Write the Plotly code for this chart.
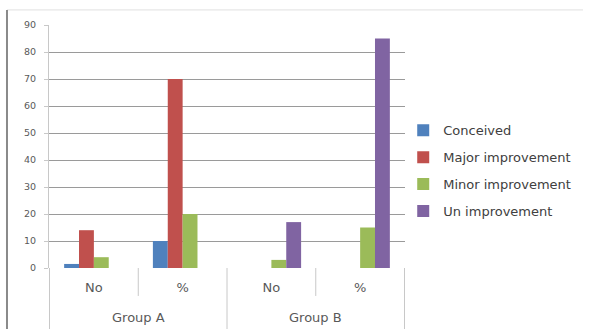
import plotly.graph_objects as go

groups = ["Group A", "Group A", "Group B", "Group B"]
subcats = ["No", "%", "No", "%"]
series_names = ["Conceived", "Major improvement", "Minor improvement", "Un improvement"]
conceived = [1.5, 10, 0, 0]
major = [14, 70, 0, 0]
minor = [4, 20, 3, 15]
unimp = [0, 0, 17, 85]
colors = ["#4F81BD", "#C0504D", "#9BBB59", "#8064A2"]
y_ticks = [0, 10, 20, 30, 40, 50, 60, 70, 80, 90]

cat_keys = [g + " " + s for g, s in zip(groups, subcats)]

fig = go.Figure()
for i, (name, vals) in enumerate(zip(series_names, [conceived, major, minor, unimp])):
    fig.add_trace(go.Bar(
        x=cat_keys, y=vals, name=name,
        marker=dict(color=colors[i], line=dict(width=0)),
        legendgroup=str(i),
    ))

font_fam = "DejaVu Sans, sans-serif"
div_col = "#c8c8c8"
shapes = [
    dict(type="line", xref="paper", yref="paper", x0=-0.118, x1=1.5, y0=1.062, y1=1.062,
         line=dict(color="#e0e0e0", width=1)),
    dict(type="line", xref="paper", yref="paper", x0=-0.118, x1=-0.118, y0=1.062, y1=-0.3,
         line=dict(color="#8a8a8a", width=2)),
]
# category boundary dividers: short between sub-categories, long between groups
n = len(cat_keys)
for b in range(n + 1):
    pos = b - 0.5
    is_group_edge = (b == 0 or b == n or groups[b - 1] != groups[b])
    shapes.append(dict(type="line", xref="x", yref="paper", x0=pos, x1=pos,
                       y0=0, y1=-0.3 if is_group_edge else -0.115,
                       line=dict(color=div_col, width=1)))

annotations = []
seen = []
for g in groups:
    if g not in seen:
        seen.append(g)
for g in seen:
    idx = [i for i, gg in enumerate(groups) if gg == g]
    annotations.append(dict(x=(idx[0] + idx[-1]) / 2, y=-0.202, xref="x", yref="paper",
                            text=g, showarrow=False, xanchor="center", yanchor="middle",
                            font=dict(family=font_fam, size=13, color="#595959")))

fig.update_layout(
    width=590, height=329,
    margin=dict(l=49, r=185, t=25, b=61),
    paper_bgcolor="white", plot_bgcolor="white",
    barmode="group", bargap=0.33, bargroupgap=0,
    font=dict(family=font_fam, size=11, color="#595959"),
    showlegend=True,
    legend=dict(x=0.995, y=0.40, xanchor="left", yanchor="middle",
                font=dict(family=font_fam, size=13, color="#404040"), tracegroupgap=7,
                itemwidth=30, bgcolor="rgba(0,0,0,0)"),
    xaxis=dict(type="category", categoryorder="array", categoryarray=cat_keys,
               tickvals=cat_keys, ticktext=subcats, showline=False, ticks="",
               ticklabelstandoff=10, showgrid=False,
               tickfont=dict(family=font_fam, size=13, color="#595959")),
    yaxis=dict(range=[0, 90], tickvals=y_ticks, showgrid=True, gridcolor="#9a9a9a",
               gridwidth=1, showline=True, linecolor=div_col, ticks="outside",
               ticklen=4, tickcolor=div_col, zeroline=False, ticklabelstandoff=6,
               tickfont=dict(family=font_fam, size=9.5, color="#595959")),
    shapes=shapes,
    annotations=annotations,
)
fig.write_html("out.html")
